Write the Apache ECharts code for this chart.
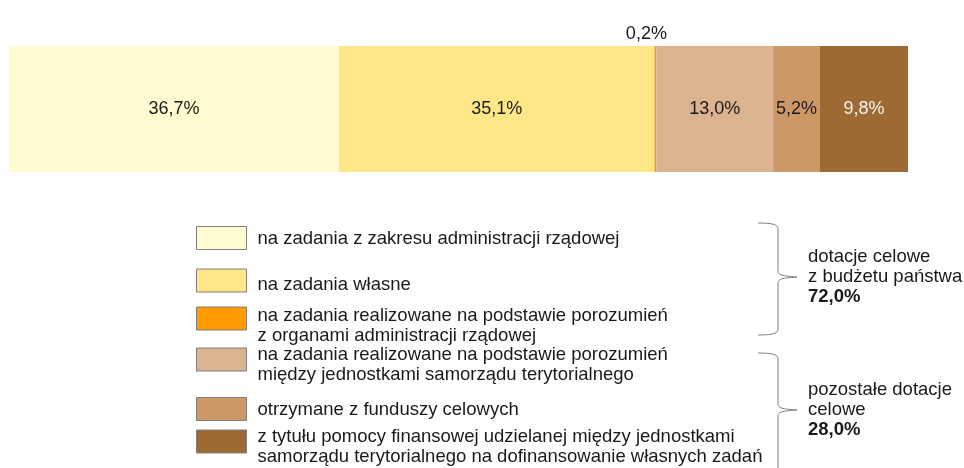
<!DOCTYPE html>
<html>
<head>
<meta charset="utf-8">
<script src="https://cdn.jsdelivr.net/npm/echarts@6/dist/echarts.min.js"></script>
<style>
  html, body { margin: 0; padding: 0; background: #fff; }
  #chart { width: 964px; height: 468px; }
</style>
</head>
<body>
<div id="chart"></div>
<script>
// data
var categories = ['dotacje celowe'];
var seriesNames = [
  'na zadania z zakresu administracji rządowej',
  'na zadania własne',
  'na zadania realizowane na podstawie porozumień\nz organami administracji rządowej',
  'na zadania realizowane na podstawie porozumień\nmiędzy jednostkami samorządu terytorialnego',
  'otrzymane z funduszy celowych',
  'z tytułu pomocy finansowej udzielanej między jednostkami\nsamorządu terytorialnego na dofinansowanie własnych zadań'
];
var shares = [36.7, 35.1, 0.2, 13.0, 5.2, 9.8];
var groupLabels = ['dotacje celowe\nz budżetu państwa', 'pozostałe dotacje\ncelowe'];
var groupShares = ['72,0%', '28,0%'];

var colors = ['#FFFACF', '#FFE686', '#FF9A00', '#DBB38F', '#CC9865', '#9E6A34'];
var labelColors = ['#1a1a1a', '#1a1a1a', '#1a1a1a', '#1a1a1a', '#1a1a1a', '#f8f2ea'];
var FONT = '"Liberation Sans", Arial, sans-serif';

// hand placed legend rows: box top and centre of first text line (px)
var legendBoxTop = [226, 269, 307, 348, 397, 430];
var legendLine1 = [238, 285, 316, 355, 409, 437];

var chart = echarts.init(document.getElementById('chart'));

var series = shares.map(function (v, i) {
  return {
    name: seriesNames[i],
    type: 'bar',
    stack: 'all',
    barWidth: '100%',
    data: [v],
    itemStyle: { color: colors[i] },
    label: {
      show: true,
      position: i === 2 ? 'top' : 'inside',
      distance: 3,
      offset: i === 2 ? [-9, 0] : [0, 0],
      color: labelColors[i],
      fontFamily: FONT,
      fontSize: 18,
      formatter: function (p) { return p.value.toFixed(1).replace('.', ',') + '%'; }
    }
  };
});

var ITEM_H = 23, LH = 20;
var legends = seriesNames.map(function (n, i) {
  var lines = n.split('\n').length;
  var c = legendBoxTop[i] + ITEM_H / 2;
  // the text block is centred on the box; an invisible spacer line on top pushes it down
  var sp = Math.max(0, Math.round(2 * (legendLine1[i] - c + LH * (lines - 1) / 2)));
  var top = Math.min(legendBoxTop[i], c - (LH * lines + sp) / 2);
  var txt = { fontFamily: FONT, fontSize: 18.5, color: '#1a1a1a', lineHeight: LH, padding: [0, 0, 0, 6] };
  return {
    show: true,
    selectedMode: false,
    orient: 'vertical',
    left: 196,
    top: top,
    padding: 0,
    data: [n],
    icon: 'rect',
    itemWidth: 50,
    itemHeight: ITEM_H,
    itemStyle: { borderColor: '#7f7f7f', borderWidth: 1 },
    formatter: function (name) {
      var body = name.split('\n').map(function (l) { return '{r|' + l + '}'; }).join('\n');
      return sp > 0 ? '{s| }\n' + body : body;
    },
    textStyle: {
      fontFamily: FONT,
      fontSize: 18.5,
      color: '#1a1a1a',
      lineHeight: LH,
      rich: {
        s: { fontSize: 1, lineHeight: sp },
        r: txt
      }
    }
  };
});

// braces to the right of the legend, made of curves and lines
function brace(yTop, yTip, yBot) {
  var x0 = 758, x1 = 778, xt = 797;
  var st = { stroke: '#7f7f7f', lineWidth: 1, fill: null };
  function curve(a, b, c, d, e, f, g, h) {
    return { type: 'bezierCurve', shape: { x1: a, y1: b, cpx1: c, cpy1: d, cpx2: e, cpy2: f, x2: g, y2: h }, style: st, silent: true };
  }
  function line(a, b, c, d) {
    return { type: 'line', shape: { x1: a, y1: b, x2: c, y2: d }, style: st, silent: true };
  }
  return [
    curve(x0, yTop, x0 + 13, yTop, x1, yTop + 1, x1, yTop + 6),
    line(x1, yTop + 6, x1, yTip - 6),
    curve(x1, yTip - 6, x1, yTip - 2, x1 + 4, yTip - 1, xt, yTip),
    curve(xt, yTip, x1 + 4, yTip + 1, x1, yTip + 2, x1, yTip + 6),
    line(x1, yTip + 6, x1, yBot - 6),
    curve(x1, yBot - 6, x1, yBot - 1, x0 + 13, yBot, x0, yBot)
  ];
}

var groupText = function (top, i) {
  return {
    type: 'text', left: 808, top: top,
    style: {
      text: groupLabels[i] + '\n{b|' + groupShares[i] + '}',
      font: '18.5px ' + FONT, fill: '#1a1a1a', lineHeight: 20,
      rich: { b: { fontWeight: 'bold', fontSize: 18.5, fontFamily: FONT, lineHeight: 20 } }
    }
  };
};

var option = {
  backgroundColor: '#ffffff',
  animation: false,
  grid: { left: 9, right: 56, top: 46, height: 126 },
  xAxis: { type: 'value', min: 0, max: 100, show: false },
  yAxis: { type: 'category', data: categories, show: false },
  legend: legends,
  series: series,
  graphic: brace(223, 277, 335).concat(brace(353, 410, 500)).concat([groupText(247, 0), groupText(380, 1)])
};
chart.setOption(option);
</script>
</body>
</html>
